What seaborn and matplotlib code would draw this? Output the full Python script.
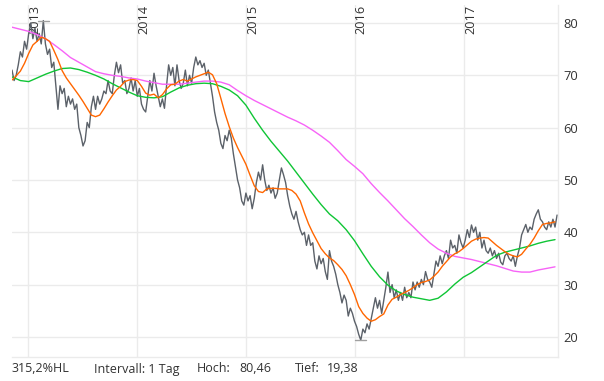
import numpy as np
import pandas as pd
import matplotlib
matplotlib.use("Agg")
import matplotlib.pyplot as plt
import matplotlib.transforms as mtransforms
import seaborn as sns

# ---------------- data ----------------
start = "2012-11-08"
price = [
    71, 69, 70, 72, 74.5, 73.5, 76.5, 75,
    78, 80, 77, 79, 76.5, 78, 76, 80.46,
    76, 74, 75, 71.5, 72.5, 68, 63.5, 68,
    66.5, 67.5, 64, 66, 64.5, 65.5, 63.5, 64.5,
    60, 58.5, 56.5, 57.5, 61, 60, 64, 66,
    63.5, 66, 64.5, 65.5, 67, 66.5, 69, 67,
    66.5, 70, 72.5, 70.5, 72, 68.5, 69, 66.5,
    67.5, 69.5, 67, 69, 66, 67.5, 64.5, 63.5,
    63, 66, 69, 67, 70.4, 68, 66, 64,
    65.5, 63.7, 68, 72, 70, 71.5, 68, 72,
    69, 67.5, 68.5, 71, 68, 70, 68.5, 71.5,
    73.5, 72, 72.8, 71.5, 72.3, 70, 71, 68.5,
    66, 63, 61, 59.5, 57, 56, 58.5, 57.5,
    59.5, 58, 55, 52.5, 50, 48.5, 46, 45.2,
    47.5, 46, 47, 44.5, 46.5, 49.5, 51.5, 50,
    52.9, 50, 48, 49, 47.5, 48.5, 46.5, 47.5,
    50, 52.3, 51, 49.5, 47, 45, 43.5, 42.5,
    44, 42, 40.5, 39.5, 40, 37.5, 39.5, 37.5,
    38, 34.5, 33, 35.5, 34, 35, 32.5, 31,
    36.5, 34.5, 33.5, 32, 30, 28.5, 26.5, 28,
    27, 24, 25.5, 24.5, 23, 22, 20.5, 19.38,
    21.5, 20.8, 22.5, 21.5, 23.5, 25.5, 27.5, 25.5,
    27, 24.5, 27, 29.5, 32.4, 28.5, 30, 27.5,
    29, 27, 28.5, 27, 29.5, 27.5, 28.5, 27.5,
    30.5, 29, 30.5, 29.5, 31, 30, 32.5, 31,
    30.5, 29.5, 32, 34.5, 33.5, 35.5, 34, 35.5,
    36.5, 35, 38.5, 37, 37.5, 36, 39.5, 38,
    37, 38.5, 40.5, 39, 41.4, 40, 41, 38.5,
    40, 37, 38.5, 36.5, 36, 37, 35.5, 36.5,
    35, 36, 34.3, 33.8, 35.5, 36, 35, 34.5,
    35.5, 33.5, 35.5, 37, 39.5, 40.5, 41.5, 40,
    41, 40.5, 42.5, 43.5, 44.3, 42.5, 42, 41,
    40.5, 42, 41, 42.5, 41, 43.3,
]

ma_short = [
    69.1, 69.9, 70.8, 72.3, 74.2, 75.8, 76.5, 77.3, 77.0, 76.5,
    74.8, 73.0, 70.9, 69.5, 68.4, 67.3, 66.2, 65.0, 63.7, 62.4,
    62.1, 62.4, 63.6, 64.9, 66.1, 67.2, 67.9, 68.8, 69.1, 69.2,
    69.0, 67.9, 66.6, 66.2, 66.4, 65.7, 66.3, 67.4, 68.2, 68.3,
    68.9, 69.2, 68.9, 69.3, 69.7, 70.0, 70.3, 70.6, 70.1, 68.4,
    65.6, 62.7, 60.2, 58.0, 56.2, 54.6, 53.0, 50.9, 48.9, 47.8,
    47.6, 48.3, 48.4, 48.4, 48.3, 48.3, 48.3, 48.0, 47.3, 46.0,
    43.7, 41.6, 39.9, 38.4, 36.9, 35.9, 35.1, 34.6, 33.8, 32.9,
    31.7, 30.0, 28.1, 25.8, 24.5, 23.6, 23.0, 23.3, 23.9, 24.4,
    26.1, 27.2, 27.6, 28.1, 28.5, 28.9, 29.4, 30.0, 30.4, 30.6,
    30.9, 31.6, 32.4, 33.5, 34.4, 35.3, 35.9, 36.3, 36.9, 37.6,
    38.3, 38.7, 38.9, 39.0, 38.9, 38.2, 37.5, 36.9, 36.3, 35.8,
    35.5, 35.3, 35.8, 36.8, 37.7, 38.9, 40.3, 41.5, 41.7, 41.8,
    42.0,
]

ma_mid = [
    69.7, 69.0, 68.8, 69.5, 70.2, 70.8, 71.3, 71.4, 71.1, 70.6,
    70.0, 69.3, 68.4, 67.6, 66.8, 66.1, 65.8, 65.7, 65.9, 66.8,
    67.6, 68.1, 68.4, 68.5, 68.4, 67.9, 67.2, 66.1, 64.3, 61.8,
    59.5, 57.4, 55.5, 53.6, 51.5, 49.4, 47.3, 45.3, 43.5, 42.2,
    40.5, 38.4, 35.9, 33.5, 31.5, 29.9, 28.8, 28.1, 27.6, 27.3,
    27.0, 27.4, 28.6, 30.1, 31.4, 32.3, 33.4, 34.5, 35.6, 36.2,
    36.6, 37.0, 37.4, 37.9, 38.3, 38.6,
]

ma_long = [
    79.2, 78.8, 78.4, 77.8, 77.0, 75.9, 74.7, 73.4, 72.5, 71.6,
    70.7, 70.3, 70.0, 69.8, 69.5, 69.3, 68.9, 68.6, 68.3, 68.3,
    68.3, 68.5, 68.7, 68.9, 68.9, 68.7, 68.2, 67.1, 66.1, 65.2,
    64.4, 63.6, 62.8, 62.0, 61.3, 60.5, 59.5, 58.4, 57.2, 55.6,
    53.9, 52.6, 51.2, 49.3, 47.6, 46.0, 44.3, 42.6, 41.1, 39.5,
    38.0, 36.8, 36.0, 35.4, 35.1, 34.8, 34.4, 34.0, 33.6, 33.1,
    32.6, 32.4, 32.4, 32.8, 33.1, 33.4,
]

years = [2013, 2014, 2015, 2016, 2017]
y_ticks = [20, 30, 40, 50, 60, 70, 80]
interval_label = "Intervall: 1 Tag"

price_df = pd.DataFrame({"date": pd.date_range(start, periods=len(price), freq="7D"),
                         "value": price})
short_df = pd.DataFrame({"date": pd.date_range(start, periods=len(ma_short), freq="14D"),
                         "value": ma_short})
mid_df = pd.DataFrame({"date": pd.date_range(start, periods=len(ma_mid), freq="28D"),
                       "value": ma_mid})
long_df = pd.DataFrame({"date": pd.date_range(start, periods=len(ma_long), freq="28D"),
                        "value": ma_long})

# ---------------- style ----------------
sns.set_style("white")
plt.rcParams["font.family"] = ["Open Sans", "DejaVu Sans"]
TXT = "#333333"
GRID = "#ebebeb"

W, H = 604, 381
fig = plt.figure(figsize=(W / 100, H / 100), dpi=100)
left, right, top, bottom = 12, 558, 5, 357
ax = fig.add_axes([left / W, (H - bottom) / H, (right - left) / W, (bottom - top) / H])

# grid
for yv in y_ticks:
    ax.axhline(yv, color=GRID, lw=1, zorder=0)
for yr in years:
    ax.axvline(pd.Timestamp(f"{yr}-01-01"), color=GRID, lw=1, zorder=0)

# lines
sns.lineplot(data=long_df, x="date", y="value", ax=ax, color="#f763f7", lw=1.0, zorder=3)
sns.lineplot(data=mid_df, x="date", y="value", ax=ax, color="#0fc535", lw=1.0, zorder=3)
sns.lineplot(data=price_df, x="date", y="value", ax=ax, color="#5b6169", lw=1.0, zorder=2)
sns.lineplot(data=short_df, x="date", y="value", ax=ax, color="#ff6600", lw=1.0, zorder=4)

# high / low markers
hi_i = int(np.argmax(price))
lo_i = int(np.argmin(price))
half = pd.Timedelta(days=18)
for i in (hi_i, lo_i):
    d = price_df["date"][i]
    ax.plot([d - half, d + half], [price[i], price[i]], color="#a0a0a0", lw=1, zorder=5)

# limits
ax.set_xlim(pd.Timestamp(start), pd.Timestamp("2017-11-12"))
ax.set_ylim(16.17, 83.44)

# axes styling
for s in ("left", "top"):
    ax.spines[s].set_visible(False)
for s in ("right", "bottom"):
    ax.spines[s].set_color(GRID)
    ax.spines[s].set_linewidth(1)
ax.set_xticks([])
ax.set_xlabel("")
ax.set_ylabel("")
ax.yaxis.tick_right()
ax.set_yticks(y_ticks)
ax.set_yticklabels([str(v) for v in y_ticks])
ax.tick_params(axis="y", length=0, pad=4, labelsize=9.3, labelcolor=TXT)

# year labels inside at top
trans = mtransforms.blended_transform_factory(ax.transData, ax.transAxes)
for yr in years:
    ax.text(pd.Timestamp(f"{yr}-01-01"), 1.0, str(yr), transform=trans,
            rotation=90, ha="left", va="top", fontsize=9.1, color=TXT, zorder=1)

# bottom stats
hi, lo = max(price), min(price)
pct = (hi / lo - 1) * 100
fmt = lambda v, n: f"{v:.{n}f}".replace(".", ",")
ty = 1 - 369 / H
fig.text(12 / W, ty, f"{fmt(pct, 1)}%HL", ha="left", va="center", fontsize=9, color=TXT)
fig.text(94 / W, ty, interval_label, ha="left", va="center", fontsize=9, color=TXT)
fig.text(197 / W, ty, "Hoch:", ha="left", va="center", fontsize=9, color=TXT)
fig.text(239 / W, ty, fmt(hi, 2), ha="left", va="center", fontsize=9, color=TXT)
fig.text(295 / W, ty, "Tief:", ha="left", va="center", fontsize=9, color=TXT)
fig.text(327 / W, ty, fmt(lo, 2), ha="left", va="center", fontsize=9, color=TXT)

fig.savefig("out.png", dpi=100)
